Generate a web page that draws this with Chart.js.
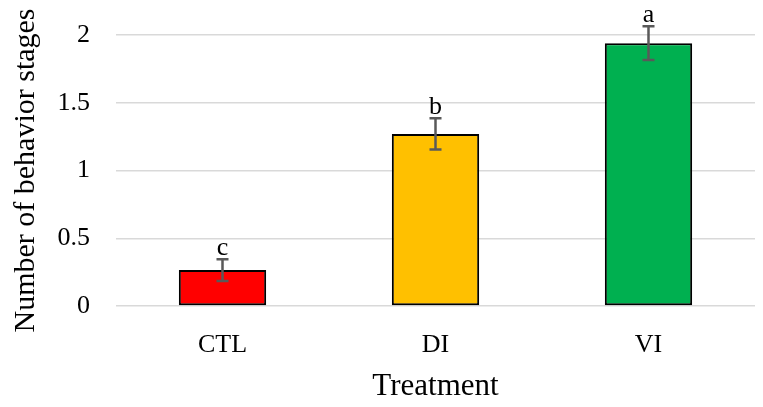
<!DOCTYPE html>
<html>
<head>
<meta charset="utf-8">
<script src="https://cdn.jsdelivr.net/npm/chart.js@4"></script>
<style>
    html, body { margin: 0; padding: 0; background: #fff; }
    #wrap { width: 763px; height: 407px; }
</style>
</head>
<body>
<div id="wrap"><canvas id="behaviorChart" width="763" height="407"></canvas></div>
<script>
// values
const treatments = ['CTL', 'DI', 'VI'];
const meanStages = [0.265, 1.27, 1.94];
const stdErrors = [0.08, 0.115, 0.125];
const groupLetters = ['c', 'b', 'a'];
const barColors = ['#FF0000', '#FFC000', '#00B050'];
const yTicks = [0, 0.5, 1, 1.5, 2];

const serif = "'Liberation Serif', 'DejaVu Serif', serif";

// error bars + significance letters, placed through the scales
const errorBarPlugin = {
    id: 'errorBars',
    afterDatasetsDraw(chart) {
        const ctx = chart.ctx;
        const x = chart.scales.x;
        const y = chart.scales.y;
        ctx.save();
        ctx.strokeStyle = '#595959';
        ctx.lineWidth = 2.5;
        meanStages.forEach((v, i) => {
            const cx = x.getPixelForValue(i);
            const top = y.getPixelForValue(v + stdErrors[i]);
            const bottom = y.getPixelForValue(v - stdErrors[i]);
            ctx.beginPath();
            ctx.moveTo(cx, top);
            ctx.lineTo(cx, bottom);
            ctx.moveTo(cx - 6, top);
            ctx.lineTo(cx + 6, top);
            ctx.moveTo(cx - 6, bottom);
            ctx.lineTo(cx + 6, bottom);
            ctx.stroke();

            ctx.fillStyle = '#000';
            ctx.font = '26px ' + serif;
            ctx.textAlign = 'center';
            ctx.textBaseline = 'alphabetic';
            ctx.fillText(groupLetters[i], cx, top - 4);
        });
        ctx.restore();
    }
};

new Chart(document.getElementById('behaviorChart').getContext('2d'), {
    type: 'bar',
    data: {
        labels: treatments,
        datasets: [{
            data: meanStages,
            backgroundColor: barColors,
            borderColor: '#000',
            borderWidth: 2,
            borderSkipped: false,
            barPercentage: 0.41,
            categoryPercentage: 1
        }]
    },
    options: {
        responsive: false,
        animation: false,
        devicePixelRatio: 1,
        layout: { padding: { top: 35, right: 8, left: 0, bottom: 0 } },
        plugins: {
            legend: { display: false },
            tooltip: { enabled: false }
        },
        scales: {
            x: {
                grid: { display: false },
                border: { display: false },
                ticks: { color: '#000', font: { family: serif, size: 26 }, padding: 16 },
                title: {
                    display: true,
                    text: 'Treatment',
                    color: '#000',
                    font: { family: serif, size: 31 },
                    padding: { top: 0, bottom: 2 }
                },
                afterFit: (scale) => { scale.height = 101; }
            },
            y: {
                min: 0,
                max: 2,
                afterBuildTicks: (scale) => { scale.ticks = yTicks.map(v => ({ value: v })); },
                grid: { color: '#d9d9d9', lineWidth: 1.5, drawTicks: false },
                border: { display: false },
                ticks: {
                    color: '#000',
                    font: { family: serif, size: 26 },
                    padding: 26,
                    callback: (value) => String(value)
                },
                title: {
                    display: true,
                    text: 'Number of behavior stages',
                    color: '#000',
                    font: { family: serif, size: 30 },
                    padding: { top: 8, bottom: 0 }
                },
                afterFit: (scale) => {
                    scale.width = 116;
                    scale.paddingTop = 0;
                    scale.paddingBottom = 0;
                }
            }
        }
    },
    plugins: [errorBarPlugin]
});
</script>
</body>
</html>
